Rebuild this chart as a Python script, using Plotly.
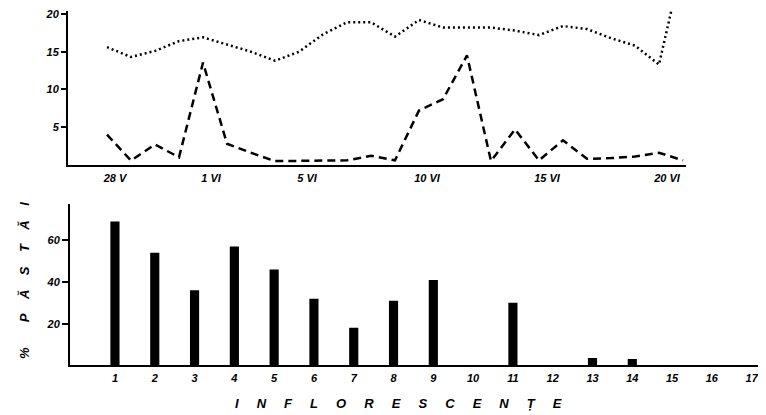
import plotly.graph_objects as go

# ---- data (top panel) ----
days = list(range(25))  # 28 V ... 21 VI, one point per day
date_tick_idx = [0, 4, 8, 13, 18, 23]
date_tick_text = ["28 V", "1 VI", "5 VI", "10 VI", "15 VI", "20 VI"]
dotted_vals = [15.6, 14.3, 15.1, 16.4, 16.9, 16.0, 15.0, 13.8, 15.0, 17.3,
               18.9, 18.9, 17.0, 19.2, 18.2, 18.2, 18.2, 17.8, 17.2, 18.4,
               18.0, 16.8, 15.8, 13.3, 27.2]
dashed_vals = [4.0, 0.57, 2.7, 1.0, 13.55, 2.8, 1.6, 0.5, 0.53, 0.53,
               0.6, 1.2, 0.6, 7.2, 8.7, 14.5, 0.5, 4.7, 0.6, 3.25,
               0.8, 0.9, 1.1, 1.6, 0.6]
top_y_ticks = [5, 10, 15, 20]

# ---- data (bottom panel) ----
inflorescences = list(range(1, 18))
pod_percent = [69, 54, 36, 57, 46, 32, 18, 31, 41, 0, 30, 0, 3.5, 3, 0, 0, 0]
bottom_y_ticks = [20, 40, 60]

# page has an 8px body margin; size figure so it fits the 766x415 window
OFF = 8
W, H = 766 - OFF, 415 - OFF


def px(x):
    return (x - OFF) / W


def py(y):
    return (H - (y - OFF)) / H


FONT = dict(family="Liberation Sans", color="black", size=11, weight="bold", style="italic")

fig = go.Figure()
fig.add_trace(go.Scatter(x=days, y=dotted_vals, mode="lines",
                         line=dict(color="black", width=2.5, dash="2px,3px"),
                         xaxis="x", yaxis="y", showlegend=False))
fig.add_trace(go.Scatter(x=days, y=dashed_vals, mode="lines",
                         line=dict(color="black", width=2.5, dash="8px,5px"),
                         xaxis="x", yaxis="y", showlegend=False))
fig.add_trace(go.Bar(x=inflorescences, y=pod_percent, width=0.23,
                     marker=dict(color="black", line=dict(width=0)),
                     xaxis="x2", yaxis="y2", showlegend=False))

axis_common = dict(showgrid=False, zeroline=False, showline=True,
                   linecolor="black", linewidth=2, tickfont=FONT,
                   ticklabeloverflow="allow")

fig.update_layout(
    width=W, height=H,
    margin=dict(l=0, r=0, t=0, b=0),
    paper_bgcolor="white", plot_bgcolor="white",
    xaxis=dict(domain=[px(68), px(686)], range=[-1.625, 24.125],
               tickvals=date_tick_idx, ticktext=date_tick_text,
               ticks="", ticklabelshift=8, ticklabelstandoff=2,
               anchor="y", **axis_common),
    yaxis=dict(domain=[py(163), 1], range=[0, (163 - OFF) / 7.6],
               tickvals=top_y_ticks, ticks="outside", ticklen=5,
               tickcolor="black", tickwidth=1.5,
               anchor="x", **axis_common),
    xaxis2=dict(domain=[px(70), 1], range=[-0.13, 17.36],
                tickvals=inflorescences, ticks="", ticklabelstandoff=1,
                anchor="y2", **axis_common),
    yaxis2=dict(domain=[py(365), py(202)], range=[0, 163 / 2.1],
                tickvals=bottom_y_ticks, ticks="outside", ticklen=6,
                tickcolor="black", tickwidth=1.5,
                anchor="x2", **axis_common),
)

sp = "\u00a0" * 5
fig.add_annotation(text=sp.join(list("INFLORESCENȚE")),
                   x=px(398), y=py(403), xref="paper", yref="paper",
                   xanchor="center", yanchor="middle",
                   showarrow=False, font=dict(FONT, size=13))
sp2 = "\u00a0" * 4
fig.add_annotation(text="%" + "\u00a0" * 7 + sp2.join(list("PĂSTĂI")),
                   x=px(25), y=py(280), xref="paper", yref="paper",
                   xanchor="center", yanchor="middle",
                   showarrow=False, textangle=-90, font=dict(FONT, size=13))

fig.write_html("out.html")
